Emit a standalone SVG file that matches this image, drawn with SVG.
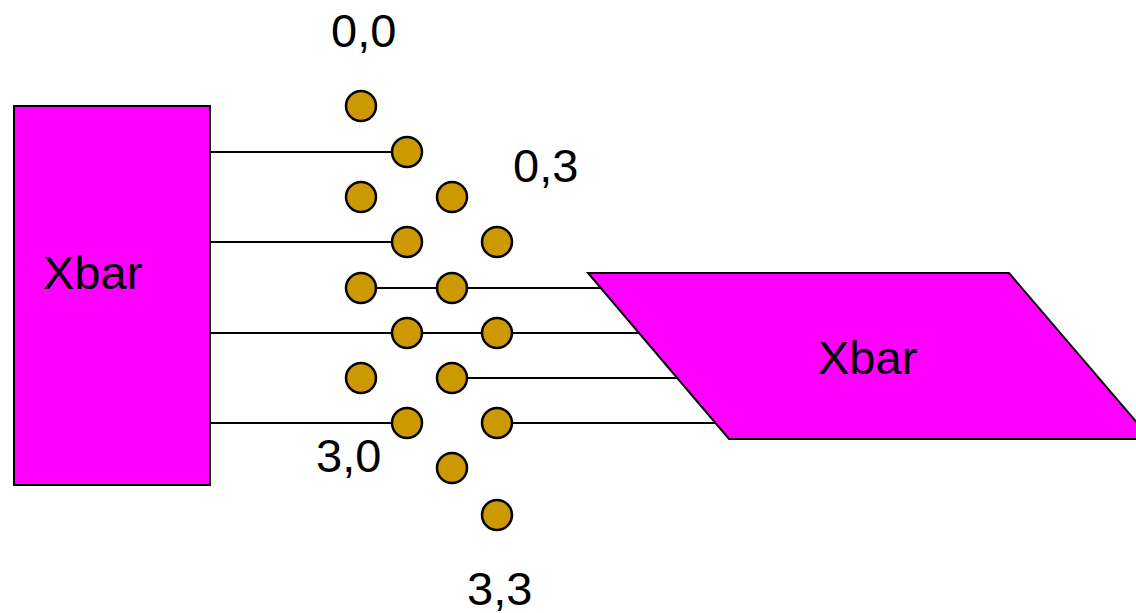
<svg xmlns="http://www.w3.org/2000/svg" width="1136" height="613" viewBox="0 0 1136 613">
<style>
.xbar{fill:#ff00ff;stroke:#000;stroke-width:2}
.node{fill:#cc9900;stroke:#000;stroke-width:2.5}
.wire{stroke:#000;stroke-width:2;fill:none}
text{font-family:"Liberation Sans",Arial,sans-serif;font-size:47px;fill:#000}
</style>
<rect width="1136" height="613" fill="#fff"/>
<g id="connectors">
<line class="wire" x1="210" y1="152" x2="407" y2="152"/>
<line class="wire" x1="210" y1="242" x2="407" y2="242"/>
<line class="wire" x1="210" y1="333" x2="740" y2="333"/>
<line class="wire" x1="210" y1="423" x2="407" y2="423"/>
<line class="wire" x1="361" y1="288" x2="740" y2="288"/>
<line class="wire" x1="452" y1="378" x2="740" y2="378"/>
<line class="wire" x1="497" y1="423" x2="740" y2="423"/>
</g>
<g id="xbar-left">
<rect class="xbar" x="14" y="106" width="196" height="379"/>
<text x="43" y="289">Xbar</text>
</g>
<g id="xbar-right">
<polygon class="xbar" points="588,273 1009,273 1151,439 729,439"/>
<text x="818" y="374">Xbar</text>
</g>
<g id="nodes">
<circle class="node" cx="361" cy="106" r="15"/>
<circle class="node" cx="407" cy="152" r="15"/>
<circle class="node" cx="361" cy="197" r="15"/>
<circle class="node" cx="452" cy="197" r="15"/>
<circle class="node" cx="407" cy="242" r="15"/>
<circle class="node" cx="497" cy="242" r="15"/>
<circle class="node" cx="361" cy="288" r="15"/>
<circle class="node" cx="452" cy="288" r="15"/>
<circle class="node" cx="407" cy="333" r="15"/>
<circle class="node" cx="497" cy="333" r="15"/>
<circle class="node" cx="361" cy="378" r="15"/>
<circle class="node" cx="452" cy="378" r="15"/>
<circle class="node" cx="407" cy="423" r="15"/>
<circle class="node" cx="497" cy="423" r="15"/>
<circle class="node" cx="452" cy="468" r="15"/>
<circle class="node" cx="497" cy="515" r="15"/>
</g>
<g id="labels">
<text x="331" y="47">0,0</text>
<text x="513" y="182">0,3</text>
<text x="316" y="472">3,0</text>
<text x="467" y="605">3,3</text>
</g>
</svg>
